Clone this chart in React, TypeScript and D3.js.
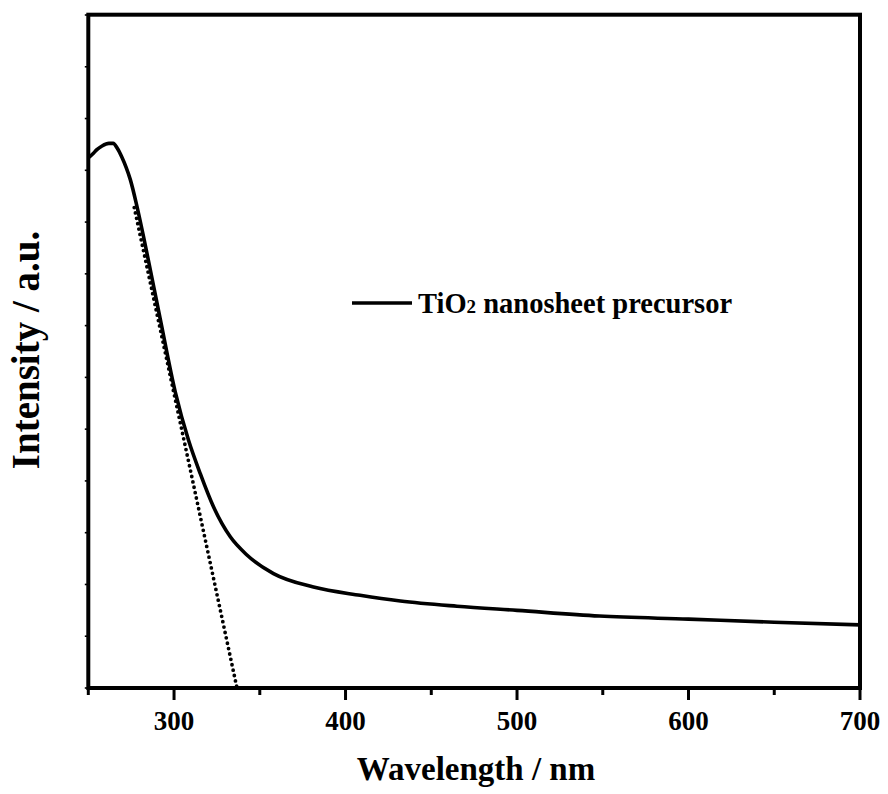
import React from "react";
import * as d3 from "d3";

const wavelength = [250, 253, 255, 258, 262, 264.5, 267, 269.6, 272, 274.5, 278.4, 282.2, 285.1, 292, 300.7, 308.5, 315.3, 323, 332.8, 342.5, 358, 381.3, 408.5, 432, 465, 500, 548, 600, 650, 700];
const intensity = [10.24, 10.33, 10.40, 10.47, 10.52, 10.52, 10.42, 10.25, 10.06, 9.82, 9.30, 8.72, 8.25, 7.12, 5.72, 4.78, 4.14, 3.50, 2.92, 2.57, 2.21, 1.95, 1.79, 1.68, 1.58, 1.50, 1.39, 1.33, 1.27, 1.22];
const tangentX = [276.8, 336.7];
const tangentY = [9.28, 0];
const majorTicks = [300, 400, 500, 600, 700];
const minorTicks = [250, 350, 450, 550, 650];
const yTicks = d3.range(0, 14);
const legendLabel = "TiO";
const legendSub = "2";
const legendRest = " nanosheet precursor";
const xTitle = "Wavelength / nm";
const yTitle = "Intensity / a.u.";

const W = 888, H = 794;
const L = 88.3, R = 860, T = 14.7, B = 688;
const FONT = "'Liberation Serif', 'Times New Roman', serif";

export default function App() {
  const x = d3.scaleLinear().domain([250, 700]).range([L, R]);
  const y = d3.scaleLinear().domain([0, 13]).range([B, T + 0.3]);
  const pts = wavelength.map((w, i) => [w, intensity[i]] as [number, number]);
  const line = d3.line<[number, number]>().x(d => x(d[0])).y(d => y(d[1])).curve(d3.curveMonotoneX);
  const tan = tangentX.map((w, i) => [w, tangentY[i]] as [number, number]);
  const tline = d3.line<[number, number]>().x(d => x(d[0])).y(d => y(d[1]));

  return (
    <svg width={W} height={H} style={{ position: "absolute", left: 0, top: 0, background: "#fff" }} fontFamily={FONT} fontWeight="bold">
      <rect x={0} y={0} width={W} height={H} fill="#fff" />
      <defs>
        <clipPath id="plot"><rect x={L} y={T} width={R - L} height={B - T} /></clipPath>
      </defs>
      <path d={tline(tan) || ""} fill="none" stroke="#000" strokeWidth={3.8} strokeLinecap="round" strokeDasharray="0 5.5" />
      <path d={line(pts) || ""} fill="none" stroke="#000" strokeWidth={3.6} strokeLinejoin="round" clipPath="url(#plot)" />
      {yTicks.map(t => (
        <line key={"y" + t} x1={L} x2={L - 3.5} y1={y(t)} y2={y(t)} stroke="#000" strokeWidth={1.6} />
      ))}
      {majorTicks.map(t => (
        <line key={"M" + t} x1={x(t)} x2={x(t)} y1={B} y2={B + 12} stroke="#000" strokeWidth={3} />
      ))}
      {minorTicks.map(t => (
        <line key={"m" + t} x1={x(t)} x2={x(t)} y1={B} y2={B + 7} stroke="#000" strokeWidth={3} />
      ))}
      <rect x={L} y={T} width={R - L} height={B - T} fill="none" stroke="#000" strokeWidth={4} />
      {majorTicks.map(t => (
        <text key={"l" + t} x={x(t)} y={730} textAnchor="middle" fontSize={27}>{t}</text>
      ))}
      <text x={476} y={780} textAnchor="middle" fontSize={33}>{xTitle}</text>
      <text transform={`translate(39,350) rotate(-90)`} textAnchor="middle" fontSize={39}>{yTitle}</text>
      <line x1={352} x2={412} y1={303} y2={303} stroke="#000" strokeWidth={3.6} />
      <text x={418} y={313} fontSize={28.5}>
        {legendLabel}<tspan fontSize={19}>{legendSub}</tspan>{legendRest}
      </text>
    </svg>
  );
}
